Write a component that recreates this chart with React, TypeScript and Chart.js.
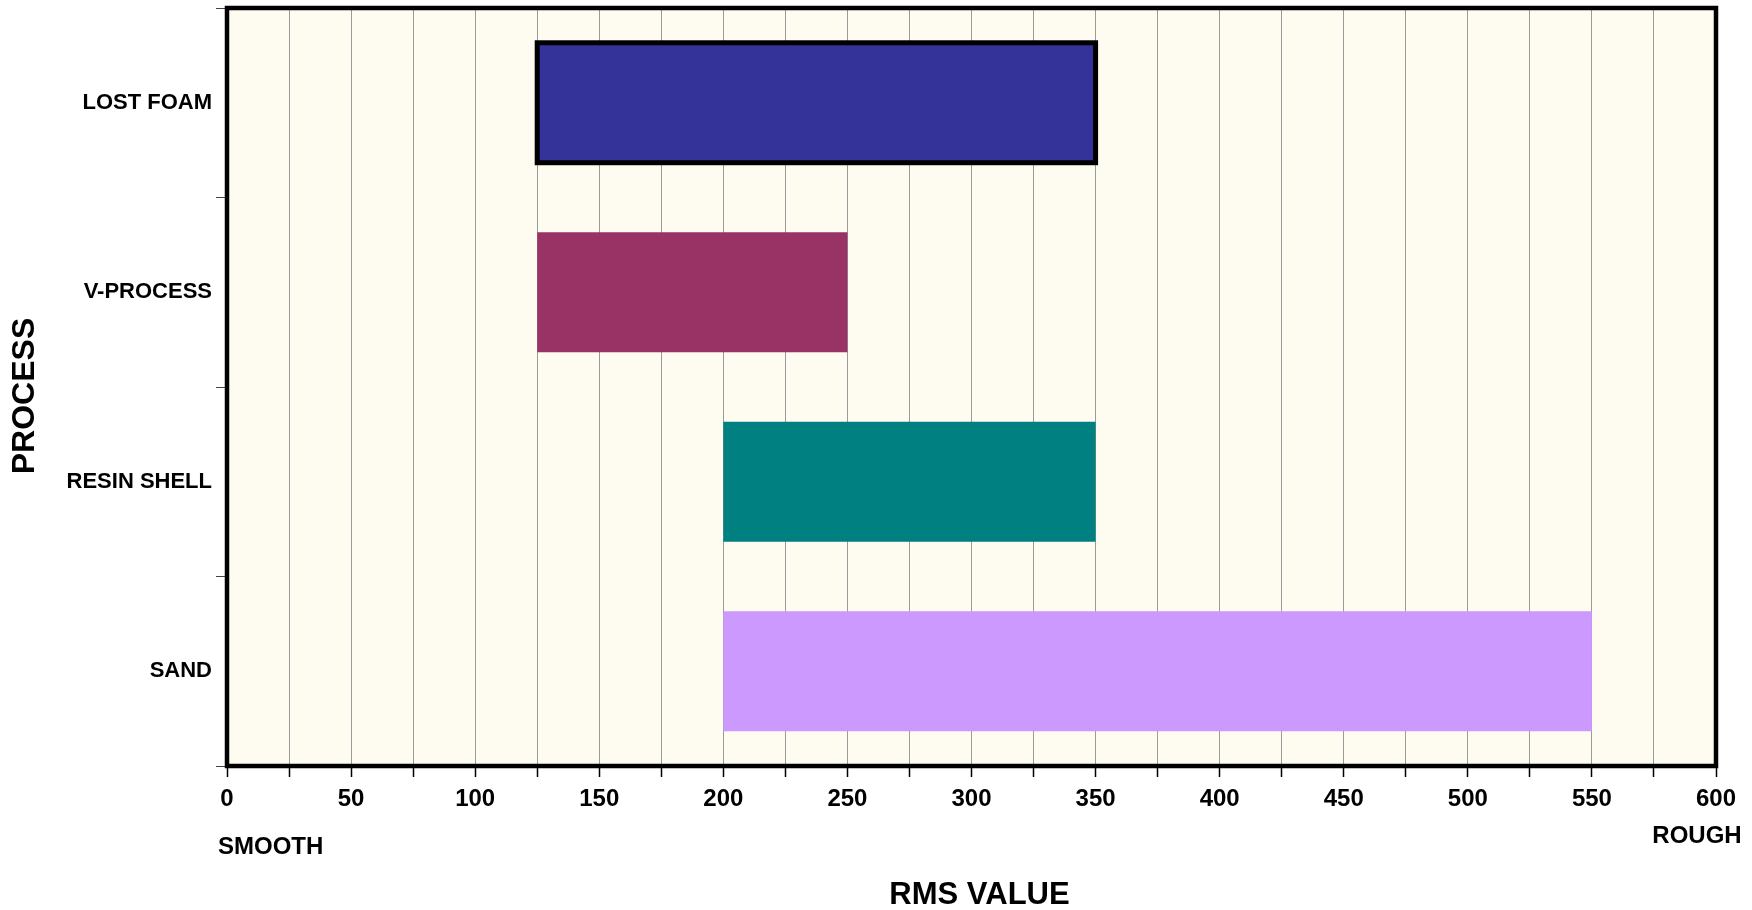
import React, { useEffect, useRef } from "react";
import { Chart, registerables } from "chart.js";

Chart.register(...registerables);

const categories = ["LOST FOAM", "V-PROCESS", "RESIN SHELL", "SAND"];
const rangeStart = [125, 125, 200, 200];
const rangeEnd = [350, 250, 350, 550];
const barColors = ["#333399", "#993366", "#008080", "#CC99FF"];
const outlinedBars = [true, false, false, false];
const xMin = 0;
const xMax = 600;
const xStep = 25;
const xLabelStep = 50;
const xTitle = "RMS VALUE";
const yTitle = "PROCESS";
const leftNote = "SMOOTH";
const rightNote = "ROUGH";

const FONT = "'Liberation Sans', Arial, sans-serif";

const decorPlugin = {
  id: "decor",
  beforeDraw(chart: any) {
    const { ctx, chartArea } = chart;
    ctx.save();
    ctx.fillStyle = "#FEFBF0";
    ctx.fillRect(chartArea.left, chartArea.top, chartArea.right - chartArea.left, chartArea.bottom - chartArea.top);
    ctx.restore();
  },
  afterDatasetsDraw(chart: any) {
    const { ctx } = chart;
    const meta = chart.getDatasetMeta(0);
    ctx.save();
    meta.data.forEach((el: any, i: number) => {
      if (!outlinedBars[i]) return;
      const p = el.getProps(["x", "y", "base", "height"], true);
      const left = Math.min(p.x, p.base);
      const right = Math.max(p.x, p.base);
      ctx.lineWidth = 5;
      ctx.strokeStyle = "#000";
      ctx.strokeRect(left, p.y - p.height / 2, right - left, p.height);
    });
    ctx.restore();
  },
  afterDraw(chart: any) {
    const { ctx, chartArea } = chart;
    const xs = chart.scales.x;
    ctx.save();
    ctx.lineWidth = 4.5;
    ctx.strokeStyle = "#000";
    ctx.strokeRect(chartArea.left, chartArea.top, chartArea.right - chartArea.left, chartArea.bottom - chartArea.top);

    ctx.fillStyle = "#000";
    ctx.textBaseline = "middle";
    ctx.font = `bold 24px ${FONT}`;
    ctx.textAlign = "left";
    ctx.fillText(leftNote, xs.getPixelForValue(xMin) - 9, 847);
    ctx.textAlign = "center";
    ctx.fillText(rightNote, xs.getPixelForValue(xMax) - 19, 836);

    ctx.font = `bold 31px ${FONT}`;
    ctx.fillText(xTitle, (chartArea.left + chartArea.right) / 2 + 8, 895);

    ctx.translate(25, (chartArea.top + chartArea.bottom) / 2 + 9);
    ctx.rotate(-Math.PI / 2);
    ctx.font = `bold 32px ${FONT}`;
    ctx.fillText(yTitle, 0, 0);
    ctx.restore();
  },
};

export default function App() {
  const canvasRef = useRef<HTMLCanvasElement | null>(null);

  useEffect(() => {
    if (!canvasRef.current) return;
    const chart = new Chart(canvasRef.current, {
      type: "bar",
      data: {
        labels: categories,
        datasets: [
          {
            data: categories.map((_, i) => [rangeStart[i], rangeEnd[i]]) as any,
            backgroundColor: barColors,
            borderWidth: 0,
            barPercentage: 1,
            categoryPercentage: 0.633,
          },
        ],
      },
      options: {
        indexAxis: "y",
        animation: false,
        responsive: false,
        maintainAspectRatio: false,
        layout: { padding: { top: 8, right: 36, left: 0, bottom: 0 } },
        plugins: {
          legend: { display: false },
          tooltip: { enabled: false },
          title: { display: false },
        },
        scales: {
          x: {
            type: "linear",
            min: xMin,
            max: xMax,
            afterFit(scale: any) {
              scale.height = 144;
              scale.paddingLeft = 0;
              scale.paddingRight = 0;
            },
            border: { display: false },
            grid: {
              color: "#9a9a9a",
              lineWidth: 1,
              drawTicks: true,
              tickLength: 11,
              tickColor: "#000",
              tickWidth: 1.5,
            },
            ticks: {
              stepSize: xStep,
              autoSkip: false,
              maxRotation: 0,
              padding: 8,
              color: "#000",
              font: { family: FONT, size: 24, weight: "bold" },
              callback: (v: any) => (Number(v) % xLabelStep === 0 ? String(v) : ""),
            },
          },
          y: {
            type: "category",
            afterFit(scale: any) {
              scale.width = 227;
              scale.paddingTop = 0;
              scale.paddingBottom = 0;
            },
            border: { display: false },
            grid: {
              drawOnChartArea: false,
              drawTicks: true,
              tickLength: 11,
              tickColor: "#444",
              offset: true,
            },
            ticks: {
              padding: 4,
              color: "#000",
              font: { family: FONT, size: 22, weight: "bold" },
            },
          },
        },
      } as any,
      plugins: [decorPlugin],
    });
    return () => chart.destroy();
  }, []);

  return (
    <div style={{ position: "fixed", left: 0, top: 0, width: 1752, height: 910, background: "#fff" }}>
      <canvas ref={canvasRef} width={1752} height={910} />
    </div>
  );
}
